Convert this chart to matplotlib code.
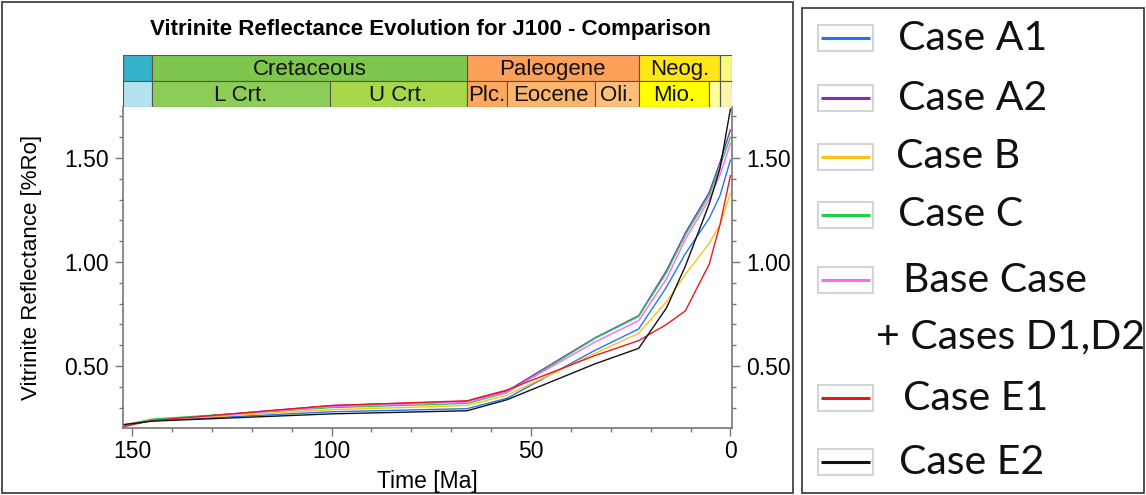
import matplotlib
matplotlib.use("Agg")
import matplotlib.pyplot as plt
from matplotlib.patches import Rectangle
from matplotlib.ticker import MultipleLocator

plt.rcParams['font.family'] = ['Liberation Sans', 'DejaVu Sans']

# ---- data -------------------------------------------------------------
age_ma = [152.3, 145, 100, 66, 56, 34, 23, 16, 11.3, 5.3, 2.6, 0]

case_a1 = [0.215, 0.237, 0.280, 0.295, 0.345, 0.575, 0.678, 0.880, 1.040, 1.210, 1.320, 1.490]
case_a2 = [0.215, 0.238, 0.310, 0.330, 0.380, 0.635, 0.742, 0.960, 1.140, 1.335, 1.480, 1.635]
case_b  = [0.215, 0.240, 0.290, 0.310, 0.360, 0.560, 0.657, 0.810, 0.940, 1.090, 1.180, 1.330]
case_c  = [0.215, 0.245, 0.300, 0.320, 0.372, 0.632, 0.738, 0.950, 1.130, 1.320, 1.460, 1.600]
base_case = [0.215, 0.238, 0.305, 0.327, 0.375, 0.615, 0.718, 0.920, 1.110, 1.300, 1.420, 1.570]
case_e1 = [0.208, 0.238, 0.310, 0.333, 0.385, 0.550, 0.622, 0.700, 0.765, 0.990, 1.180, 1.415]
case_e2 = [0.218, 0.235, 0.270, 0.285, 0.338, 0.510, 0.585, 0.780, 0.980, 1.280, 1.450, 1.735]

series_values = [case_a1, case_a2, case_b, case_c, base_case, case_e1, case_e2]
series_labels = ["Case A1", "Case A2", "Case B", "Case C",
                 "Base Case\n+ Cases D1,D2", "Case E1", "Case E2"]
series_colors = ["#2277F0", "#7A2FC0", "#FFC11A", "#22D04A", "#FF66FF", "#E8191E", "#111111"]

x_ticks = [150, 100, 50, 0]
y_ticks = [0.50, 1.00, 1.50]

# stratigraphic chart: (label, start Ma, end Ma, colour)
periods = [("", 152.3, 145.0, "#34B2C9"),
           ("Cretaceous", 145.0, 66.0, "#7FC64E"),
           ("Paleogene", 66.0, 23.03, "#FDA05A"),
           ("Neog.", 23.03, 2.58, "#FFE619"),
           ("", 2.58, -0.4, "#F9F97F")]
epochs = [("", 152.3, 145.0, "#B3E3EE"),
          ("L Crt.", 145.0, 100.5, "#8CCD57"),
          ("U Crt.", 100.5, 66.0, "#A6D84A"),
          ("Plc.", 66.0, 56.0, "#FDA75F"),
          ("Eocene", 56.0, 33.9, "#FDB46C"),
          ("Oli.", 33.9, 23.03, "#FDC07A"),
          ("Mio.", 23.03, 5.33, "#FFFF00"),
          ("", 5.33, 2.58, "#FFFF99"),
          ("", 2.58, -0.4, "#FFF2AE")]

# ---- figure -----------------------------------------------------------
W, H = 1146, 495
fig = plt.figure(figsize=(W / 100, H / 100), dpi=100)

def px_axes(x0, y0, x1, y1):
    return fig.add_axes([x0 / W, 1 - y1 / H, (x1 - x0) / W, (y1 - y0) / H])

XLIM = (152.3, -0.4)
ax = px_axes(123, 107, 732, 428)
for vals, col in zip(series_values, series_colors):
    ax.plot(age_ma, vals, color=col, lw=1.0, solid_joinstyle='round')

ax.set_xlim(*XLIM)
ax.set_ylim(0.202, 1.745)
ax.set_xticks(x_ticks)
ax.set_xticklabels([str(t) for t in x_ticks])
ax.set_yticks(y_ticks)
ax.set_yticklabels([f"{t:.2f}" for t in y_ticks])
ax.xaxis.set_minor_locator(MultipleLocator(10))
ax.yaxis.set_minor_locator(MultipleLocator(0.1))
ax.tick_params(axis='both', which='major', direction='out', length=6, width=1,
               color='#777777', labelsize=16.5, right=True, labelright=True)
ax.tick_params(axis='both', which='minor', direction='out', length=3, width=1,
               color='#777777', right=True)
ax.tick_params(axis='x', pad=3)
ax.tick_params(axis='y', pad=4)
for side in ("left", "right", "bottom"):
    ax.spines[side].set_color('#777777')
    ax.spines[side].set_linewidth(1.2)
ax.spines["top"].set_visible(False)
ax.set_xlabel("Time [Ma]", fontsize=16.5, labelpad=5)
ax.set_ylabel("Vitrinite Reflectance [%Ro]", fontsize=16, labelpad=16)

# stratigraphic band above the plot
band = px_axes(123, 55, 732, 107)
band.set_xlim(*XLIM)
band.set_ylim(0, 2)
band.axis('off')
for row, units in ((1, periods), (0, epochs)):
    for name, a0, a1, col in units:
        band.add_patch(Rectangle((a0, row), a1 - a0, 1, facecolor=col,
                                 edgecolor='#555555', lw=0.8))
        if name:
            band.text((a0 + a1) / 2, row + 0.46, name, ha='center', va='center',
                      fontsize=16, color='#111111')

fig.text(430 / W, 1 - 30 / H, "Vitrinite Reflectance Evolution for J100 - Comparison",
         ha='center', va='center', fontsize=16, fontweight='bold')

# frames and legend panel
over = fig.add_axes([0, 0, 1, 1], zorder=-1)
over.set_xlim(0, W)
over.set_ylim(H, 0)
over.axis('off')
over.add_patch(Rectangle((1.5, 1.5), 791, 491, fill=False, edgecolor='#333333', lw=1.2))
over.add_patch(Rectangle((802, 8), 342, 485, fill=False, edgecolor='#333333', lw=1.2))

leg = fig.add_axes([0, 0, 1, 1])
leg.set_xlim(0, W)
leg.set_ylim(H, 0)
leg.axis('off')
row_y = [38, 98, 157, 215, 280, 398, 462]
text_x = [898, 898, 896, 898, 903, 903, 899]
for y, tx, lab, col in zip(row_y, text_x, series_labels, series_colors):
    leg.add_patch(Rectangle((818, y - 13), 55, 26, facecolor='white',
                            edgecolor='#D4D4D4', lw=1.5))
    leg.plot([821, 870], [y, y], color=col, lw=2.2, solid_capstyle='butt')
    lines = lab.split("\n")
    leg.text(tx, y, lines[0], ha='left', va='center', fontsize=29.5,
             family=['Lato', 'DejaVu Sans'], color='#111111')
    if len(lines) > 1:
        leg.text(876, y + 57, lines[1], ha='left', va='center', fontsize=29.5,
                 family=['Lato', 'DejaVu Sans'], color='#111111')

fig.savefig("out.png", dpi=100)
